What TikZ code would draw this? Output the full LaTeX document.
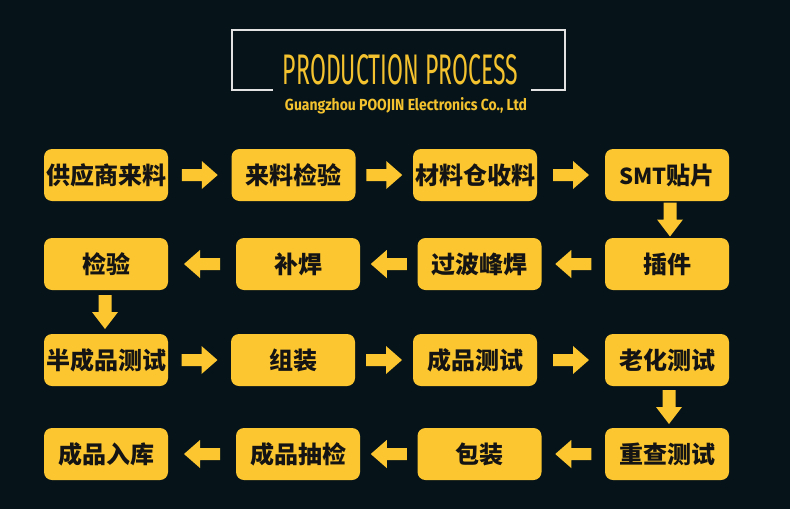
\documentclass[tikz,border=0pt]{standalone}
\usepackage{fontspec}
\newfontfamily\cjk{Noto Sans CJK SC}
\newfontfamily\titlefont{Fira Sans}
\usetikzlibrary{calc}
\definecolor{bgc}{HTML}{06141A}
\definecolor{boxc}{HTML}{FCC630}
\definecolor{txtc}{HTML}{141414}
\definecolor{ttlc}{HTML}{F3C22E}
\definecolor{framec}{HTML}{E2E2E2}
\tikzset{
  stepbox/.style={fill=boxc, rounded corners=8pt, minimum width=124pt, minimum height=52pt,
    inner sep=0pt, text=txtc, font=\cjk\bfseries\fontsize{24pt}{24pt}\selectfont},
  rarr/.pic={\fill[boxc] (-18pt,-6pt) -- (2pt,-6pt) -- (2pt,-14pt) -- (18pt,0pt) -- (2pt,14pt) -- (2pt,6pt) -- (-18pt,6pt) -- cycle;},
  darr/.pic={\fill[boxc] (-6.5pt,17pt) -- (-6.5pt,0pt) -- (-13pt,0pt) -- (0pt,-17pt) -- (13pt,0pt) -- (6.5pt,0pt) -- (6.5pt,17pt) -- cycle;}
}
\begin{document}
\begin{tikzpicture}[x=1pt,y=-1pt]
\fill[bgc] (0,0) rectangle (790,509);
\useasboundingbox (0,0) rectangle (790,509);
% title frame
\draw[framec, line width=2pt] (273,90) -- (232,90) -- (232,30) -- (565,30) -- (565,90) -- (531,90);
\node[inner sep=0pt, text=ttlc] (title) at (400.5,70) {\resizebox{235pt}{30pt}{\titlefont PRODUCTION PROCESS}};
\node[inner sep=0pt, text=ttlc, anchor=base] (sub) at (406,110) {\resizebox{242pt}{13pt}{\titlefont\bfseries Guangzhou POOJIN Electronics Co., Ltd}};
% row 1
\node[stepbox] (a1) at (106,175) {供应商来料};
\node[stepbox] (a2) at (293.5,175) {来料检验};
\node[stepbox] (a3) at (475,175) {材料仓收料};
\node[stepbox] (a4) at (667,175) {{\fontsize{22pt}{22pt}\selectfont SMT}贴片};
% row 2
\node[stepbox] (b1) at (106,264) {检验};
\node[stepbox] (b2) at (298,264) {补焊};
\node[stepbox] (b3) at (479.5,264) {过波峰焊};
\node[stepbox] (b4) at (667,264) {插件};
% row 3
\node[stepbox] (c1) at (106,360) {半成品测试};
\node[stepbox] (c2) at (293,360) {组装};
\node[stepbox] (c3) at (475,360) {成品测试};
\node[stepbox] (c4) at (667,360) {老化测试};
% row 4
\node[stepbox] (d1) at (106,454) {成品入库};
\node[stepbox] (d2) at (298,454) {成品抽检};
\node[stepbox] (d3) at (479.5,454) {包装};
\node[stepbox] (d4) at (667,454) {重查测试};
% arrows
\pic at ($(a1.east)!0.5!(a2.west)$) {rarr};
\pic at ($(a2.east)!0.5!(a3.west)$) {rarr};
\pic at ($(a3.east)!0.5!(a4.west)$) {rarr};
\pic[xshift=3pt] at ($(a4.south)!0.5!(b4.north)$) {darr};
\pic[rotate=180] at ($(b4.west)!0.5!(b3.east)$) {rarr};
\pic[rotate=180] at ($(b3.west)!0.5!(b2.east)$) {rarr};
\pic[rotate=180] at ($(b2.west)!0.5!(b1.east)$) {rarr};
\pic[xshift=-1pt] at ($(b1.south)!0.5!(c1.north)$) {darr};
\pic at ($(c1.east)!0.5!(c2.west)$) {rarr};
\pic at ($(c2.east)!0.5!(c3.west)$) {rarr};
\pic at ($(c3.east)!0.5!(c4.west)$) {rarr};
\pic[xshift=2pt] at ($(c4.south)!0.5!(d4.north)$) {darr};
\pic[rotate=180] at ($(d4.west)!0.5!(d3.east)$) {rarr};
\pic[rotate=180] at ($(d3.west)!0.5!(d2.east)$) {rarr};
\pic[rotate=180] at ($(d2.west)!0.5!(d1.east)$) {rarr};
\end{tikzpicture}
\end{document}
